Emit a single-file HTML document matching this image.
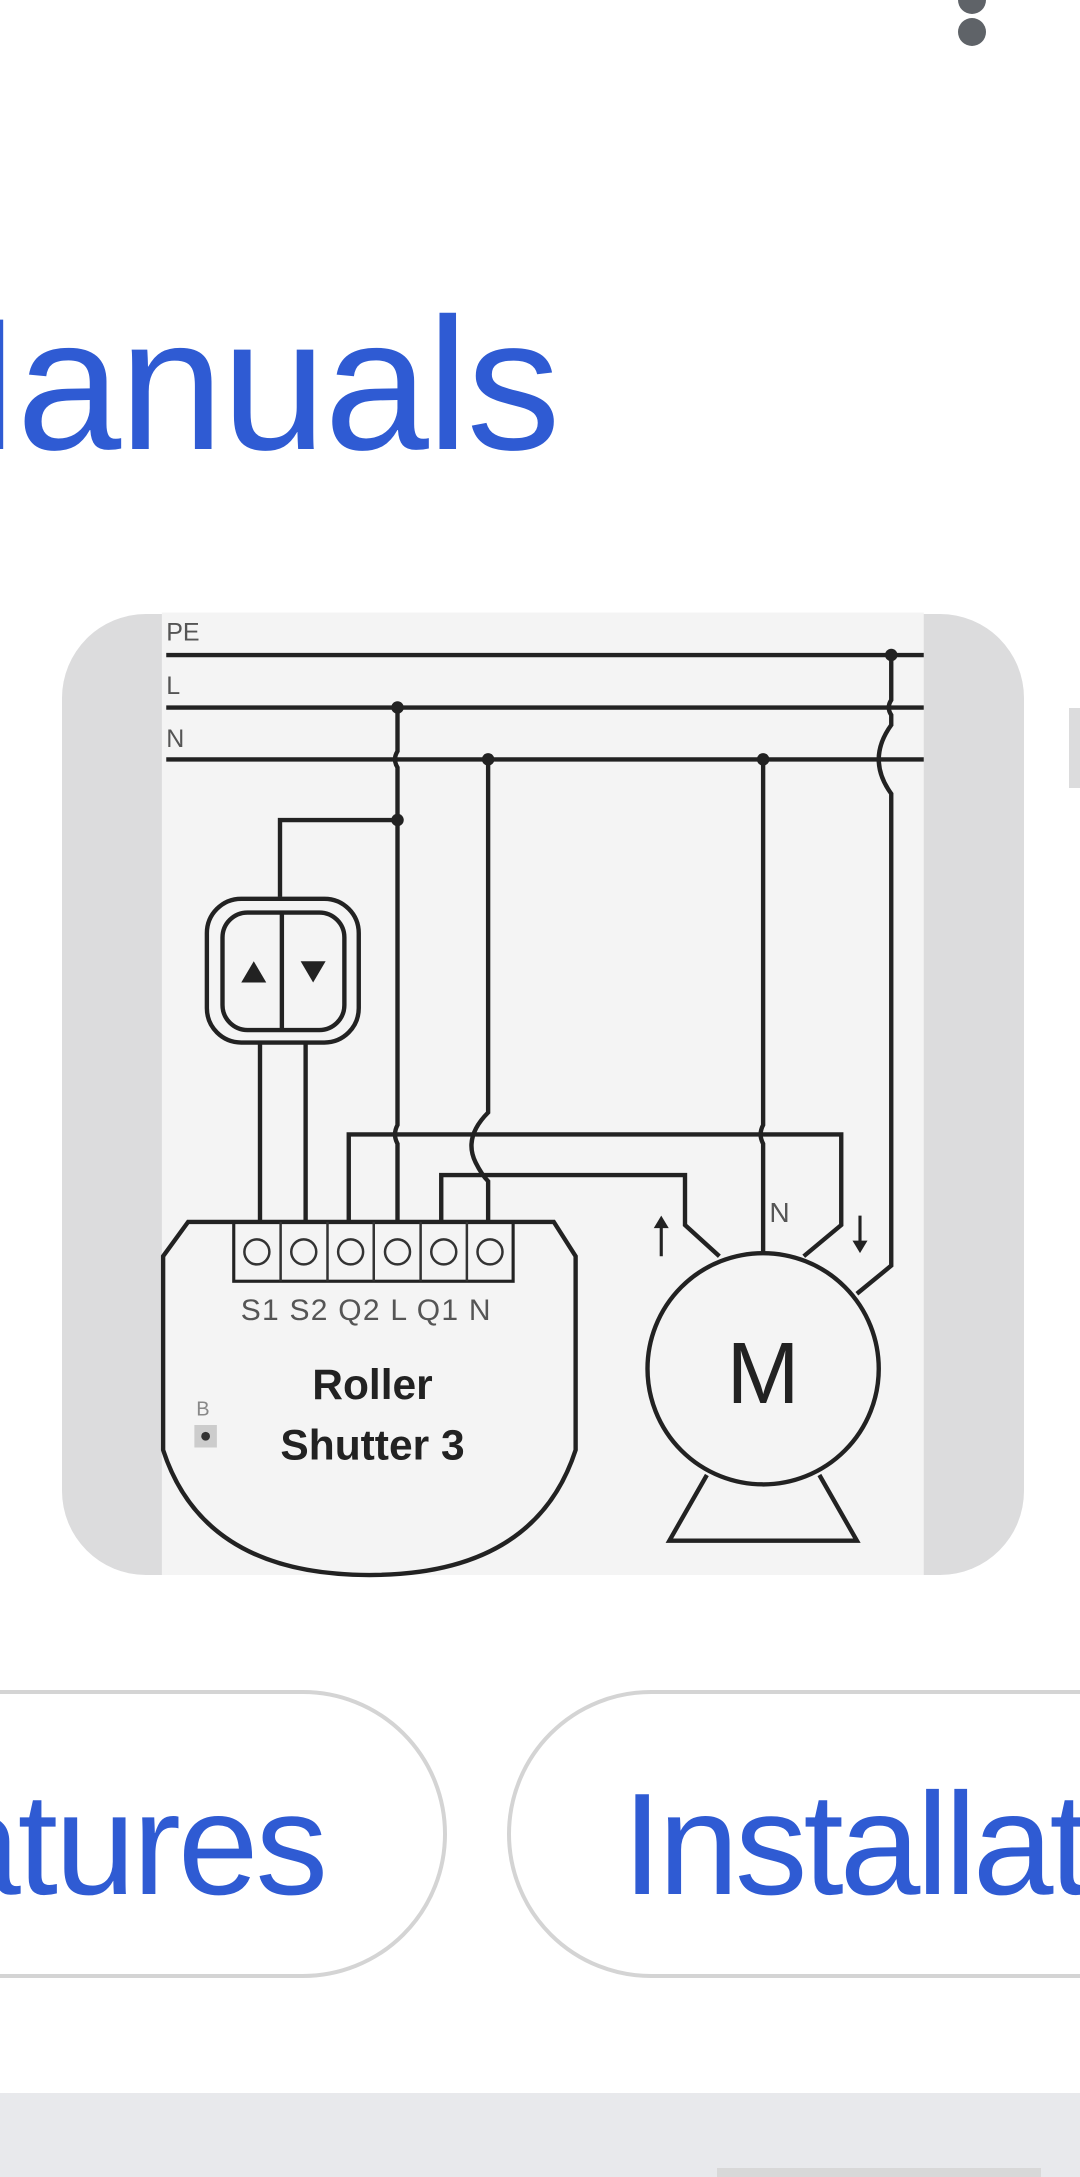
<!DOCTYPE html>
<html><head><meta charset="utf-8"><style>
html,body{margin:0;padding:0;width:1080px;height:2177px;background:#fff;overflow:hidden;position:relative;font-family:"Liberation Sans",sans-serif}
.abs{position:absolute}
</style></head><body>
<div class="abs" style="left:958px;top:-14px;width:28px;height:28px;border-radius:50%;background:#5f6368"></div>
<div class="abs" style="left:958px;top:18px;width:28px;height:28px;border-radius:50%;background:#5f6368"></div>
<div class="abs" style="left:-138px;top:290px;font-size:188px;color:#2f5bd3;line-height:1;letter-spacing:-2px;white-space:nowrap">Manuals</div>
<div class="abs" style="left:62px;top:614px;width:962px;height:961px;border-radius:84px;background:#dcdcdd"></div>
<div class="abs" style="left:1069px;top:708px;width:11px;height:80px;background:#dcdcdd"></div>
<svg class="abs" style="left:60px;top:600px" width="980" height="980" viewBox="0 0 1568 1568">
<rect x="163" y="20" width="1219" height="1540" fill="#f4f4f4"/>
<g fill="none" stroke="#222" stroke-width="7">
<line x1="170" y1="88" x2="1382" y2="88"/><line x1="170" y1="172" x2="1382" y2="172"/><line x1="170" y1="255" x2="1382" y2="255"/>
<path d="M1330 88 V160 q-8 12 0 24 V200 q-40 55 0 110 V1065 L1275 1110"/>
<path d="M540 172 V242 q-8 13 0 26 V840 q-8 15 0 30 V995"/>
<path d="M540 352 H352 V475"/>
<path d="M685 255 V820 q-40 40 -20 80 q10 20 20 30 V995"/>
<path d="M1125 255 V840 q-8 15 0 30 V1045"/>
<path d="M462 995 V855 H1250 V1000 L1190 1050"/>
<path d="M610 995 V920 H1000 V1000 L1055 1050"/>
<rect x="235" y="478" width="243" height="230" rx="55"/>
<rect x="260" y="500" width="195" height="188" rx="40"/>
<line x1="355" y1="500" x2="355" y2="688"/>
<line x1="320" y1="708" x2="320" y2="995"/><line x1="393" y1="708" x2="393" y2="995"/>
<path d="M205 995 H790 L825 1050 V1360 Q760 1560 495 1560 Q230 1560 165 1360 V1050 Z"/>
<rect x="278" y="995" width="447" height="95" stroke-width="5"/>
<circle cx="1125" cy="1230" r="185"/>
<path d="M1035 1400 L975 1505 H1275 L1215 1400"/>
<line x1="962" y1="995" x2="962" y2="1050" stroke-width="5"/>
<line x1="1280" y1="985" x2="1280" y2="1040" stroke-width="5"/>
</g>
<g stroke="#333" stroke-width="4" fill="none">
<line x1="353" y1="995" x2="353" y2="1090"/><line x1="428" y1="995" x2="428" y2="1090"/><line x1="502" y1="995" x2="502" y2="1090"/><line x1="577" y1="995" x2="577" y2="1090"/><line x1="651" y1="995" x2="651" y2="1090"/>
<circle cx="315" cy="1043" r="20"/><circle cx="390" cy="1043" r="20"/><circle cx="465" cy="1043" r="20"/><circle cx="540" cy="1043" r="20"/><circle cx="614" cy="1043" r="20"/><circle cx="688" cy="1043" r="20"/>
</g>
<g fill="#222">
<circle cx="1330" cy="88" r="10"/><circle cx="540" cy="172" r="10"/><circle cx="540" cy="352" r="10"/><circle cx="685" cy="255" r="10"/><circle cx="1125" cy="255" r="10"/>
<polygon points="290,612 330,612 310,578"/><polygon points="385,578 425,578 405,612"/>
<polygon points="950,1005 974,1005 962,985"/><polygon points="1268,1025 1292,1025 1280,1045"/>
</g>
<g font-family="Liberation Sans" fill="#555">
<text x="170" y="65" font-size="40">PE</text><text x="170" y="150" font-size="40">L</text><text x="170" y="235" font-size="40">N</text>
<text x="490" y="1152" font-size="48" text-anchor="middle" letter-spacing="2">S1 S2 Q2  L  Q1  N</text>
<text x="1135" y="995" font-size="45">N</text>
<text x="218" y="1305" font-size="32" fill="#888">B</text>
<rect x="215" y="1320" width="36" height="36" fill="#ccc"/><circle cx="233" cy="1338" r="7" fill="#333"/>
</g>
<g font-family="Liberation Sans" fill="#222" font-weight="bold" text-anchor="middle">
<text x="500" y="1278" font-size="68">Roller</text><text x="500" y="1375" font-size="68">Shutter 3</text>
</g>
<text x="1125" y="1285" font-family="Liberation Sans" font-size="140" text-anchor="middle" fill="#222">M</text>
</svg>
<div class="abs" style="left:-300px;top:1690px;width:747px;height:288px;border:4px solid #d4d4d4;border-radius:145px;box-sizing:border-box"></div>
<div class="abs" style="left:507px;top:1690px;width:800px;height:288px;border:4px solid #d4d4d4;border-radius:145px;box-sizing:border-box"></div>
<div class="abs" style="left:-60px;top:1772px;font-size:145px;color:#2f5bd3;line-height:1;letter-spacing:-3px;white-space:nowrap">atures</div>
<div class="abs" style="left:622px;top:1772px;font-size:145px;color:#2f5bd3;line-height:1;letter-spacing:-4px;white-space:nowrap">Installat</div>
<div class="abs" style="left:0;top:2093px;width:1080px;height:84px;background:#e8e9ec"></div>
<div class="abs" style="left:717px;top:2168px;width:324px;height:9px;background:#d8d8d8"></div>
</body></html>
